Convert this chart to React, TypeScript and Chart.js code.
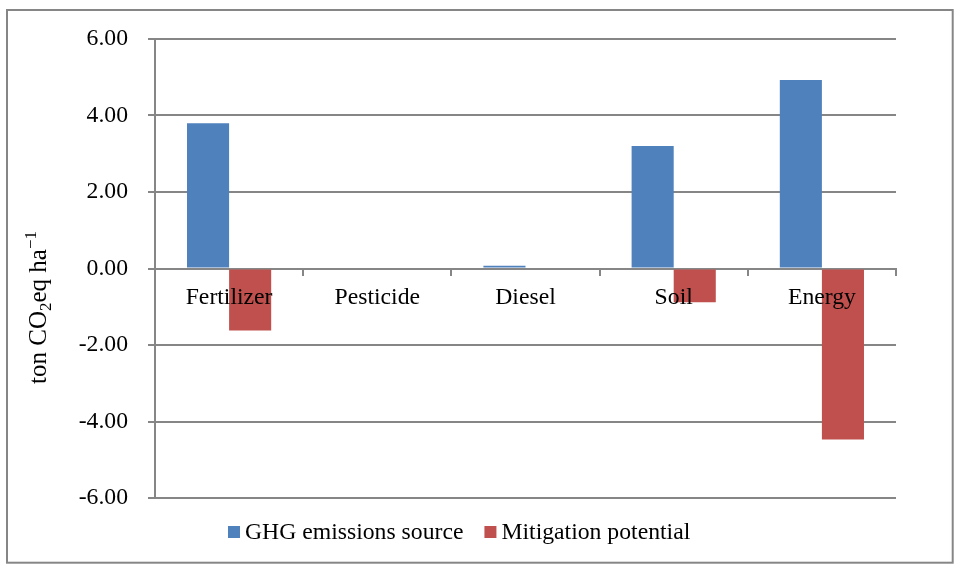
import { useEffect, useRef } from 'react';
import { Chart, registerables } from 'chart.js';

Chart.register(...registerables);

const categories = ['Fertilizer', 'Pesticide', 'Diesel', 'Soil', 'Energy'];
const ghgEmissions = [3.8, 0.0, 0.07, 3.2, 4.93];
const mitigationPotential = [-1.62, 0.0, 0.0, -0.88, -4.47];
const seriesLabels = ['GHG emissions source', 'Mitigation potential'];
const seriesColors = ['#4F81BD', '#C0504D'];
const yMin = -6;
const yMax = 6;
const yStep = 2;

const FONT = '"Liberation Serif", "Times New Roman", serif';
const GRID = '#868686';
const FS = 23.7;

const framePlugin = {
  id: 'frame',
  beforeDraw(chart: any) {
    const ctx = chart.ctx;
    ctx.save();
    ctx.fillStyle = '#ffffff';
    ctx.fillRect(0, 0, chart.width, chart.height);
    ctx.strokeStyle = GRID;
    ctx.lineWidth = 2;
    ctx.strokeRect(7, 10, 945.7, 552.7);
    ctx.restore();
  },
};

const yTitlePlugin = {
  id: 'yTitle',
  afterDraw(chart: any) {
    const ctx = chart.ctx;
    const parts = [
      { t: 'ton CO', s: 25, dy: 0 },
      { t: '2', s: 17, dy: 5 },
      { t: 'eq ha', s: 25, dy: 0 },
      { t: '\u22121', s: 17, dy: -10 },
    ];
    ctx.save();
    ctx.translate(45.5, 307.5);
    ctx.rotate(-Math.PI / 2);
    ctx.fillStyle = '#000';
    ctx.textBaseline = 'alphabetic';
    ctx.textAlign = 'left';
    let total = 0;
    for (const p of parts) {
      ctx.font = `${p.s}px ${FONT}`;
      total += ctx.measureText(p.t).width;
    }
    let x = -total / 2;
    for (const p of parts) {
      ctx.font = `${p.s}px ${FONT}`;
      ctx.fillText(p.t, x, p.dy);
      x += ctx.measureText(p.t).width;
    }
    ctx.restore();
  },
};

const legendPlugin = {
  id: 'customLegend',
  afterDraw(chart: any) {
    const ctx = chart.ctx;
    ctx.save();
    ctx.font = `${FS}px ${FONT}`;
    ctx.textBaseline = 'alphabetic';
    ctx.textAlign = 'left';
    let x = 228;
    chart.data.datasets.forEach((ds: any) => {
      ctx.fillStyle = ds.backgroundColor;
      ctx.fillRect(x, 526, 12, 12);
      x += 12 + 5;
      ctx.fillStyle = '#000';
      ctx.fillText(ds.label, x, 539);
      x += ctx.measureText(ds.label).width + 21;
    });
    ctx.restore();
  },
};

export default function App() {
  const ref = useRef<HTMLCanvasElement>(null);
  useEffect(() => {
    const chart = new Chart(ref.current!, {
      type: 'bar',
      data: {
        labels: categories,
        datasets: [
          {
            label: seriesLabels[0],
            data: ghgEmissions,
            backgroundColor: seriesColors[0],
            borderWidth: 0,
            categoryPercentage: 0.568,
            barPercentage: 1,
          },
          {
            label: seriesLabels[1],
            data: mitigationPotential,
            backgroundColor: seriesColors[1],
            borderWidth: 0,
            categoryPercentage: 0.568,
            barPercentage: 1,
          },
        ],
      },
      options: {
        animation: false,
        responsive: false,
        devicePixelRatio: 1,
        layout: { padding: { top: 39, right: 68, bottom: 71, left: 0 } },
        plugins: {
          legend: { display: false },
          tooltip: { enabled: false },
        },
        scales: {
          x: {
            position: { y: 0 } as any,
            offset: true,
            grid: {
              drawOnChartArea: false,
              drawTicks: true,
              tickLength: 6,
              color: GRID,
              lineWidth: 2,
            },
            border: { display: true, color: GRID, width: 2 },
            ticks: {
              color: '#000',
              font: { family: FONT, size: FS },
              padding: 9,
              z: 1,
              maxRotation: 0,
            },
          },
          y: {
            min: yMin,
            max: yMax,
            afterFit(scale: any) {
              scale.width = 155;
            },
            grid: { color: GRID, lineWidth: 2, tickLength: 7, drawTicks: true },
            border: { display: true, color: GRID, width: 2 },
            ticks: {
              stepSize: yStep,
              color: '#000',
              font: { family: FONT, size: FS },
              padding: 20,
              callback: (v: any) => Number(v).toFixed(2),
            },
          },
        },
      },
      plugins: [framePlugin, yTitlePlugin, legendPlugin],
    });
    return () => chart.destroy();
  }, []);
  return (
    <div style={{ position: 'absolute', left: 0, top: 0, width: 964, height: 569 }}>
      <canvas ref={ref} width={964} height={569} style={{ display: 'block' }} />
    </div>
  );
}
